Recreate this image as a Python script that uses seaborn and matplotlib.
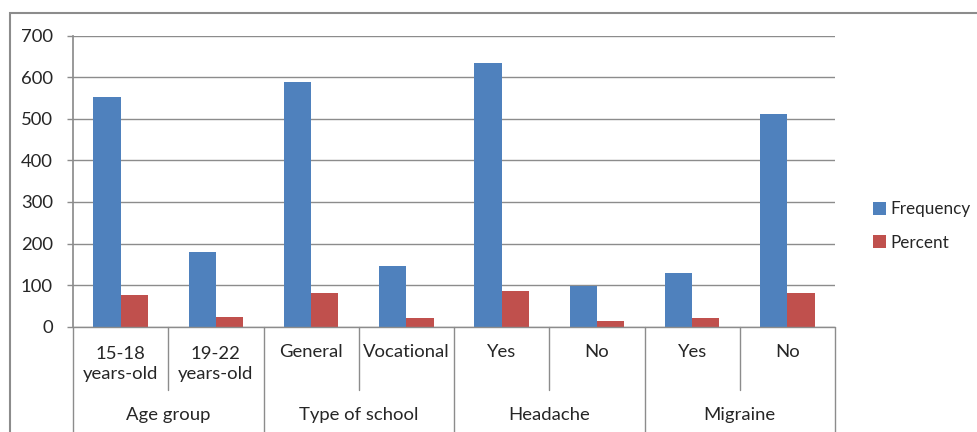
import matplotlib
matplotlib.use("Agg")
import matplotlib.pyplot as plt
import matplotlib.transforms as mtransforms
from matplotlib.patches import Rectangle, Patch
import seaborn as sns
import pandas as pd

categories = ["15-18\nyears-old", "19-22\nyears-old", "General", "Vocational",
              "Yes", "No", "Yes ", "No "]
groups = ["Age group", "Type of school", "Headache", "Migraine"]
group_sizes = [2, 2, 2, 2]
frequency = [552, 179, 588, 147, 635, 97, 128, 512]
percent = [75.5, 24.5, 80.0, 20.0, 86.7, 13.3, 20.0, 80.0]
series = ["Frequency", "Percent"]
colors = ["#4F81BD", "#C0504D"]
yticks = [0, 100, 200, 300, 400, 500, 600, 700]

sns.set_theme(style="white")
plt.rcParams["font.family"] = ["Lato", "DejaVu Sans"]

FS = 13.3
TC = "#262626"

df = pd.DataFrame({
    "cat": categories * 2,
    "series": [series[0]] * len(categories) + [series[1]] * len(categories),
    "value": frequency + percent,
})

fig = plt.figure(figsize=(9.77, 4.32), dpi=100)
ax = fig.add_axes([73 / 977, 1 - 326.7 / 432, (835 - 73) / 977, 291 / 432])

sns.barplot(data=df, x="cat", y="value", hue="series", order=categories,
            hue_order=series, palette=colors, width=0.57, saturation=1,
            linewidth=0, ax=ax, legend=False)

ax.set_ylim(0, 700)
ax.set_yticks(yticks)
ax.set_yticklabels([str(t) for t in yticks], fontsize=FS, color=TC)
ax.set_xlim(-0.5, len(categories) - 0.5)
ax.set_xticks([])
ax.set_xlabel("")
ax.set_ylabel("")
ax.yaxis.grid(True, color="#8c8c8c", linewidth=1.0)
ax.set_axisbelow(True)
for s in ["top", "right", "bottom"]:
    ax.spines[s].set_visible(False)
ax.spines["left"].set_color("#8c8c8c")
ax.spines["left"].set_bounds(0, 700)
ax.tick_params(axis="y", which="major", left=True, length=4.5, width=1,
               color="#8c8c8c", pad=10)

trans = mtransforms.blended_transform_factory(ax.transData, ax.transAxes)
lc = "#8c8c8c"
ax.plot([-0.5, len(categories) - 0.5], [0, 0], transform=trans, color=lc,
        lw=1.0, clip_on=False)
ax.plot([-0.5, -0.5], [0, -0.45], transform=trans, color=lc, lw=1.0, clip_on=False)

for i, c in enumerate(categories):
    lab = c.strip()
    y = -0.087 if "\n" not in lab else -0.128
    ax.text(i, y, lab, transform=trans, ha="center", va="center",
            fontsize=FS, color=TC, linespacing=1.35)

start = 0
for g, n in zip(groups, group_sizes):
    end = start + n
    for k in range(start + 1, end):
        ax.plot([k - 0.5, k - 0.5], [0, -0.2175], transform=trans, color=lc,
                lw=1.0, clip_on=False)
    ax.plot([end - 0.5, end - 0.5], [0, -0.45], transform=trans, color=lc,
            lw=1.0, clip_on=False)
    ax.text((start + end - 1) / 2, -0.305, g, transform=trans, ha="center",
            va="center", fontsize=FS, color=TC)
    start = end

handles = [Patch(facecolor=colors[i], edgecolor="none", label=series[i]) for i in range(2)]
fig.legend(handles=handles, loc="center left", bbox_to_anchor=(866 / 977, 1 - 226 / 432),
           frameon=False, fontsize=12.3, handlelength=0.75, handleheight=0.75,
           handletextpad=0.3, labelspacing=1.0, borderaxespad=0,
           labelcolor=TC)

fig.patches.append(Rectangle((10 / 977, -0.1), 1.2, 1.1 - 13 / 432,
                             transform=fig.transFigure, fill=False,
                             edgecolor="#8c8c8c", linewidth=1.5, zorder=0))

fig.savefig("out.png", dpi=100)
